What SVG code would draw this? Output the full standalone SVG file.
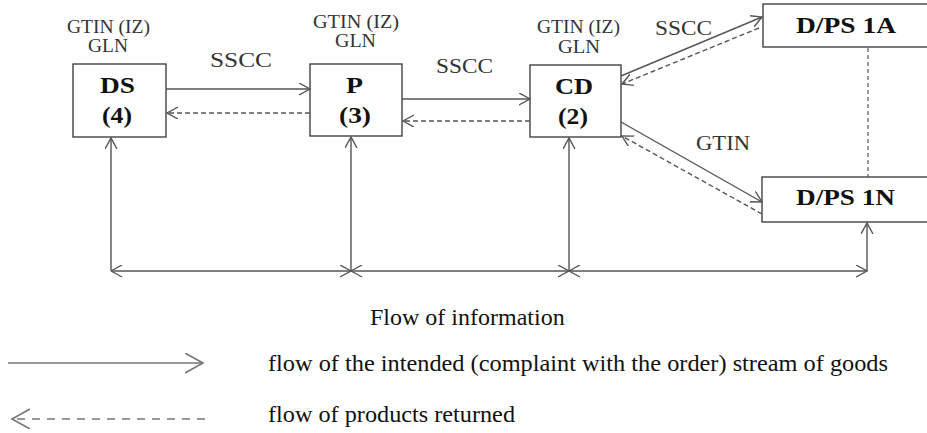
<svg xmlns="http://www.w3.org/2000/svg" width="927" height="433" viewBox="0 0 927 433">
<style>
.box{fill:#fff;stroke:#333;stroke-width:1.3}
.lbl{font-family:"Liberation Serif","Times New Roman",serif;fill:#111}
.b{font-weight:bold;font-size:23px}
.s{font-size:19px;fill:#333}
.m{font-size:20px;fill:#333}
.ln{fill:none;stroke:#555;stroke-width:1.4}
.dash{stroke-dasharray:5,3}
.dot{stroke-dasharray:4,3;stroke-width:1.2}
.ah{marker-end:url(#a)}
.ahs{marker-start:url(#as)}
</style>
<defs>
<marker id="a" markerUnits="userSpaceOnUse" markerWidth="14" markerHeight="14" refX="11" refY="6" orient="auto">
<path d="M0,0 L11,6 L0,12" fill="none" stroke="#555" stroke-width="1.4"/>
</marker>
<marker id="as" markerUnits="userSpaceOnUse" markerWidth="14" markerHeight="14" refX="0" refY="6" orient="auto">
<path d="M11,0 L0,6 L11,12" fill="none" stroke="#555" stroke-width="1.4"/>
</marker>
<marker id="L" markerUnits="userSpaceOnUse" markerWidth="22" markerHeight="22" refX="18" refY="10" orient="auto">
<path d="M0,0 L18,10 L0,20" fill="none" stroke="#777" stroke-width="1.6"/>
</marker>
</defs>

<g id="labels-top">
<text class="lbl s" x="67" y="33" textLength="83" lengthAdjust="spacingAndGlyphs">GTIN (IZ)</text>
<text class="lbl s" x="88" y="52" textLength="40" lengthAdjust="spacingAndGlyphs">GLN</text>
<text class="lbl s" x="313" y="28" textLength="86" lengthAdjust="spacingAndGlyphs">GTIN (IZ)</text>
<text class="lbl s" x="335" y="47" textLength="41" lengthAdjust="spacingAndGlyphs">GLN</text>
<text class="lbl s" x="537" y="33" textLength="83" lengthAdjust="spacingAndGlyphs">GTIN (IZ)</text>
<text class="lbl s" x="558" y="53" textLength="42" lengthAdjust="spacingAndGlyphs">GLN</text>
</g>

<g id="node-DS">
<rect class="box" x="73" y="64" width="93" height="73"/>
<text class="lbl b" x="100" y="93" textLength="35" lengthAdjust="spacingAndGlyphs">DS</text>
<text class="lbl b" x="102" y="123" textLength="30" lengthAdjust="spacingAndGlyphs">(4)</text>
</g>
<g id="node-P">
<rect class="box" x="310" y="64" width="92" height="72"/>
<text class="lbl b" x="346" y="93" textLength="17" lengthAdjust="spacingAndGlyphs">P</text>
<text class="lbl b" x="339" y="123" textLength="32" lengthAdjust="spacingAndGlyphs">(3)</text>
</g>
<g id="node-CD">
<rect class="box" x="530" y="65" width="91" height="72"/>
<text class="lbl b" x="555" y="94" textLength="38" lengthAdjust="spacingAndGlyphs">CD</text>
<text class="lbl b" x="558" y="124" textLength="30" lengthAdjust="spacingAndGlyphs">(2)</text>
</g>
<g id="node-DPS1A">
<rect class="box" x="763" y="4" width="180" height="43"/>
<text class="lbl b" x="796" y="33" textLength="100" lengthAdjust="spacingAndGlyphs">D/PS 1A</text>
</g>
<g id="node-DPS1N">
<rect class="box" x="762" y="177" width="180" height="45"/>
<text class="lbl b" x="796" y="205" textLength="99" lengthAdjust="spacingAndGlyphs">D/PS 1N</text>
</g>

<g id="connectors">
<line class="ln ah" x1="166" y1="89" x2="310" y2="89"/>
<line class="ln dash ah" x1="310" y1="113" x2="167" y2="113"/>
<line class="ln ah" x1="402" y1="99" x2="530" y2="99"/>
<line class="ln dash ah" x1="530" y1="121" x2="403" y2="121"/>
<line class="ln ah" x1="621" y1="76" x2="762" y2="17"/>
<line class="ln dash ah" x1="759" y1="28" x2="622" y2="84"/>
<line class="ln ah" x1="621" y1="122" x2="762" y2="202"/>
<line class="ln dash ah" x1="762" y1="214" x2="622" y2="136"/>
<line class="ln dot" x1="868" y1="48" x2="868" y2="177"/>
<line class="ln ah" x1="111" y1="271" x2="111" y2="138"/>
<line class="ln ah" x1="351" y1="271" x2="351" y2="137"/>
<line class="ln ah" x1="569" y1="271" x2="569" y2="138"/>
<line class="ln ah" x1="867" y1="271" x2="867" y2="223"/>
<line class="ln ah ahs" x1="111" y1="271" x2="351" y2="271"/>
<line class="ln ah ahs" x1="351" y1="271" x2="569" y2="271"/>
<line class="ln ah ahs" x1="569" y1="271" x2="867" y2="271"/>
</g>

<g id="edge-labels">
<text class="lbl m" x="210" y="67" textLength="62" lengthAdjust="spacingAndGlyphs">SSCC</text>
<text class="lbl m" x="436" y="73" textLength="57" lengthAdjust="spacingAndGlyphs">SSCC</text>
<text class="lbl m" x="655" y="35" textLength="57" lengthAdjust="spacingAndGlyphs">SSCC</text>
<text class="lbl m" x="696" y="150" textLength="54" lengthAdjust="spacingAndGlyphs">GTIN</text>
</g>

<g id="legend">
<text class="lbl" x="370" y="325" font-size="24" fill="#333">Flow of information</text>
<line x1="8" y1="363" x2="203" y2="363" stroke="#777" stroke-width="1.6" marker-end="url(#L)"/>
<line x1="205" y1="419" x2="12" y2="419" stroke="#777" stroke-width="1.6" stroke-dasharray="8,7" marker-end="url(#L)"/>
<text class="lbl" x="268" y="371" font-size="24" fill="#222" textLength="620" lengthAdjust="spacingAndGlyphs">flow of the intended (complaint with the order) stream of goods</text>
<text class="lbl" x="268" y="422" font-size="24" fill="#222" textLength="247" lengthAdjust="spacingAndGlyphs">flow of products returned</text>
</g>
</svg>
